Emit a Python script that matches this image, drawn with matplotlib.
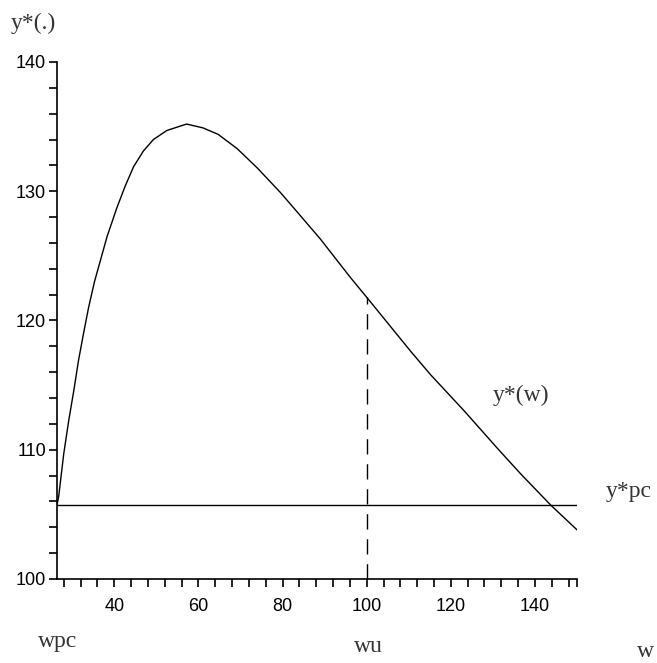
import matplotlib

matplotlib.use("Agg")

import matplotlib.pyplot as plt

# curve y*(w)
w_vals = [26.4, 26.8, 28.0, 29.2, 30.4, 31.5, 32.7, 33.9, 35.3, 38.3, 40.6,
          42.6, 44.6, 46.9, 49.3, 52.5, 57.2, 61.1, 64.7, 69.2, 74.0, 79.5,
          84.0, 89.0, 96.2, 100.0, 105.0, 110.5, 115.2, 123.2, 131.1, 136.7,
          143.8, 150.0]
y_vals = [105.75, 106.4, 109.7, 112.3, 114.6, 116.9, 119.0, 121.0, 123.0,
          126.5, 128.7, 130.4, 131.9, 133.1, 134.0, 134.7, 135.2, 134.9,
          134.4, 133.3, 131.8, 129.9, 128.2, 126.3, 123.3, 121.8, 119.8,
          117.6, 115.8, 113.0, 110.1, 108.1, 105.7, 103.8]

y_pc = 105.75
w_u = 100.0
y_at_wu = 121.8

x_minor = list(range(28, 149, 4)) + [150]
x_major = [40, 60, 80, 100, 120, 140]
y_minor = list(range(100, 141, 2))
y_major = [100, 110, 120, 130, 140]

fig = plt.figure(figsize=(6.57, 6.63), dpi=100)
ax = fig.add_axes([0.0868, 0.1267, 0.7915, 0.7798])

ax.plot(w_vals, y_vals, color="black", linewidth=1.0,
        solid_joinstyle="round")
ax.axhline(y_pc, color="black", linewidth=1.0)
ax.plot([w_u, w_u], [100, y_at_wu], color="black", linewidth=1.0,
        dashes=(11, 7))

ax.set_xlim(26.4, 150)
ax.set_ylim(100, 140)

for side in ("top", "right"):
    ax.spines[side].set_visible(False)
for side in ("left", "bottom"):
    ax.spines[side].set_linewidth(1.2)

ax.set_xticks(x_major)
ax.set_xticks(x_minor, minor=True)
ax.set_yticks(y_major)
ax.set_yticks(y_minor, minor=True)
ax.tick_params(which="both", direction="out", length=6, width=1.2,
               labelsize=13, pad=8)
ax.tick_params(axis="y", pad=2)
for lab in ax.get_xticklabels() + ax.get_yticklabels():
    lab.set_family("Liberation Sans")

serif = dict(family="Liberation Serif", fontsize=17, color="#333333",
             ha="center", va="center", clip_on=False)
ax.text(20.8, 143.0, "y*(.)", **serif)
ax.text(26.6, 95.2, "wpc", **serif)
ax.text(100.4, 94.8, "wu", **serif)
ax.text(166.2, 94.4, "w", **serif)
ax.text(136.6, 114.2, "y*(w)", **serif)
ax.text(162.2, 106.8, "y*pc", **serif)

fig.savefig("out.png", dpi=100)
